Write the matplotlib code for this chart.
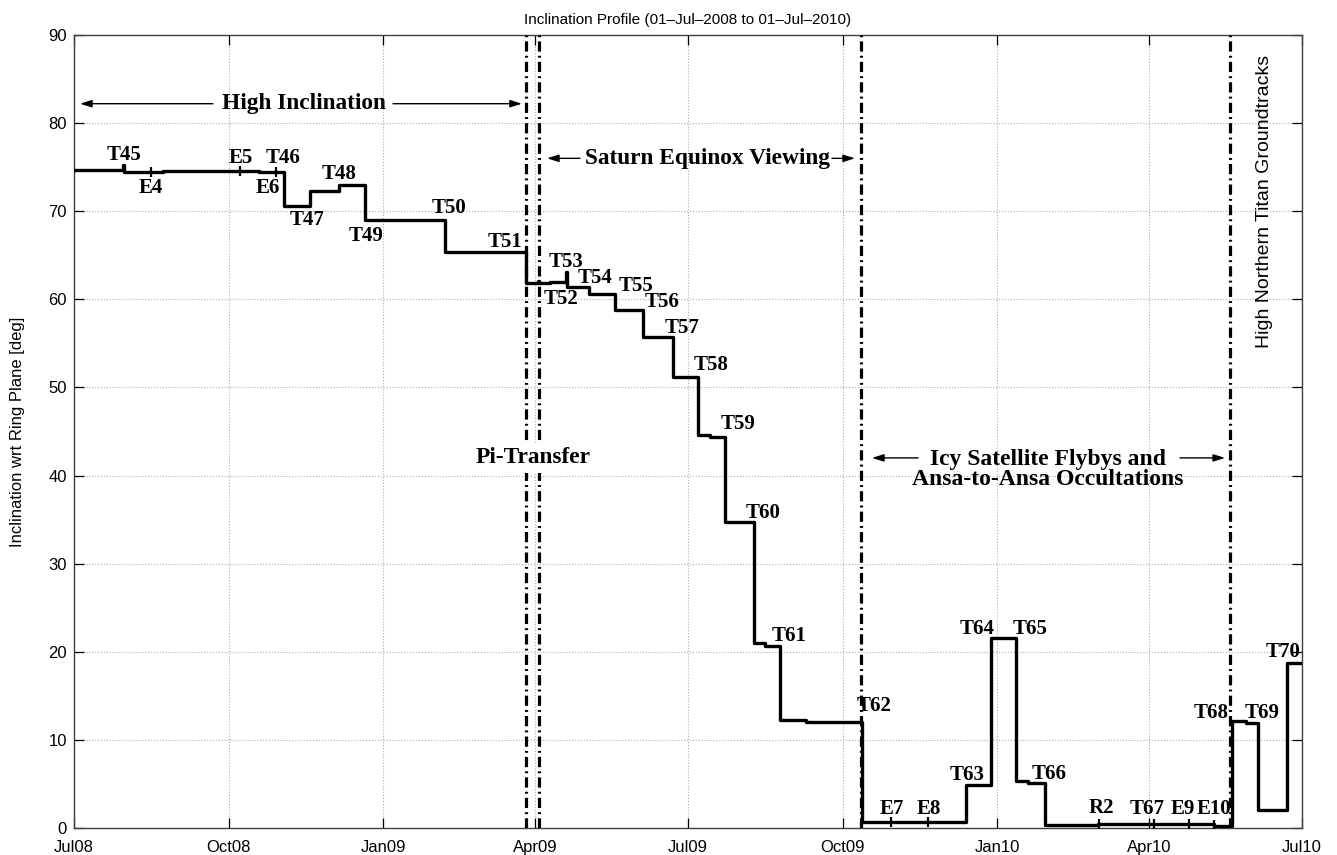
import datetime as dt
import numpy as np
import matplotlib
matplotlib.use("Agg")
import matplotlib.pyplot as plt
import matplotlib.dates as mdates

# Datos: días desde 01-Jul-2008 e inclinación [deg] (perfil escalonado)
t0 = mdates.date2num(dt.datetime(2008, 7, 1))
step_days = [0, 29.0, 29.8, 52.9, 109.8, 124.8, 140.2, 157.5, 173.0, 220.5,
             268.6, 276.0, 276.6, 283.0, 292.5, 293.3, 306.0, 321.5, 338.0,
             356.0, 371.0, 378.0, 387.0, 404.0, 411.0, 420.0, 435.0, 468.5,
             530.0, 545.0, 560.0, 567.0, 577.0, 609.0, 678.0, 688.5, 697.0,
             704.0, 721.0, 730.0]
step_incl = [74.7, 75.2, 74.4, 74.6, 74.4, 70.6, 72.3, 73.0, 69.0, 65.4,
             61.8, 62.1, 61.8, 62.0, 63.1, 61.4, 60.6, 58.8, 55.7,
             51.2, 44.6, 44.4, 34.7, 21.0, 20.7, 12.2, 12.0, 0.7,
             4.9, 21.6, 5.3, 5.1, 0.3, 0.5, 0.2, 12.1, 11.9,
             2.0, 18.7, 18.7]

# Marcas de sobrevuelos sobre la curva
tick_days = [45.8, 98.7, 120.0, 485.7, 507.6, 609.3, 642.0, 663.0, 678.0]
tick_incl = [74.4, 74.6, 74.4, 0.7, 0.7, 0.5, 0.5, 0.5, 0.3]

# Etiquetas de sobrevuelos
fb_names = ["T45", "E4", "E5", "T46", "E6", "T47", "T48", "T49", "T50", "T51",
            "T53", "T52", "T54", "T55", "T56", "T57", "T58", "T59", "T60", "T61",
            "T62", "E7", "E8", "T63", "T64", "T65", "T66", "R2", "T67", "E9",
            "E10", "T68", "T69", "T70"]
fb_days = [29.7, 45.8, 99.3, 124.2, 115.3, 138.5, 157.5, 173.6, 222.9, 256.2,
           292.5, 289.5, 309.7, 334.1, 349.5, 361.4, 378.7, 394.7, 409.6, 425.0,
           475.6, 486.3, 508.3, 530.9, 536.8, 568.3, 579.6, 610.5, 637.9, 659.3,
           677.7, 675.9, 706.2, 718.7]
fb_incl = [76.4, 72.6, 76.0, 76.0, 72.6, 69.0, 74.2, 67.2, 70.4, 66.5,
           64.2, 60.0, 62.4, 61.5, 59.7, 56.8, 52.5, 45.9, 35.8, 21.8,
           13.9, 2.2, 2.2, 6.0, 22.6, 22.6, 6.1, 2.3, 2.2, 2.2,
           2.2, 13.1, 13.1, 20.0]

# Líneas verticales de fases
phase_days = [268.6, 276.3, 467.8, 687.5]

serif = "Liberation Serif"
sans = "Liberation Sans"

fig = plt.figure(figsize=(13.37, 8.55), dpi=100)
ax = fig.add_axes([0.0553, 0.0316, 0.9185, 0.9275])

x = t0 + np.array(step_days)
ax.plot(x, step_incl, color="k", lw=2.4, drawstyle="steps-post", zorder=4)
ax.plot(t0 + np.array(tick_days), tick_incl, "|", color="k", ms=7, mew=1.6, zorder=4)

for d in phase_days:
    ax.axvline(t0 + d, color="k", lw=2.3, linestyle=(0, (3.2, 1.3, 0.6, 1.3)), zorder=3)

for name, d, v in zip(fb_names, fb_days, fb_incl):
    ax.text(t0 + d, v, name, ha="center", va="center", fontsize=15,
            fontweight="bold", family=serif, zorder=5)

# Regiones y flechas
arr = dict(arrowstyle="-|>,head_length=0.7,head_width=0.22", color="k", lw=1.0,
           shrinkA=0, shrinkB=0)

def arrow(d_tail, d_head, y):
    ax.annotate("", xy=(t0 + d_head, y), xytext=(t0 + d_tail, y), arrowprops=arr, zorder=6)

ax.text(t0 + 137, 82.2, "High Inclination", ha="center", va="center", fontsize=16.8,
        fontweight="bold", family=serif)
arrow(82.6, 3.6, 82.2)
arrow(189.7, 266.3, 82.2)

ax.text(t0 + 376.6, 76.0, "Saturn Equinox Viewing", ha="center", va="center",
        fontsize=16.8, fontweight="bold", family=serif)
arrow(300.8, 281.2, 76.0)
arrow(450.6, 464.3, 76.0)

ax.text(t0 + 272.9, 42.0, "Pi-Transfer", ha="center", va="center", fontsize=16.8,
        fontweight="bold", family=serif, zorder=6,
        bbox=dict(facecolor="white", edgecolor="none", pad=3))

ax.text(t0 + 579, 40.7, "Icy Satellite Flybys and\nAnsa-to-Ansa Occultations",
        ha="center", va="center", fontsize=17, fontweight="bold", family=serif,
        linespacing=0.95)
arrow(501.8, 474.4, 42.0)
arrow(657.5, 684.3, 42.0)

ax.text(t0 + 708, 71.1, "High Northern Titan Groundtracks", rotation=90,
        ha="center", va="center", fontsize=14, family=sans)

# Ejes estilo Matlab
ax.set_xlim(t0, t0 + 730)
ax.set_ylim(0, 90)
ax.set_yticks(np.arange(0, 91, 10))
ax.xaxis.set_major_locator(mdates.MonthLocator(bymonth=[1, 4, 7, 10]))
ax.xaxis.set_major_formatter(mdates.DateFormatter("%b%y"))
ax.tick_params(direction="in", length=7, width=0.9, top=True, right=True,
               labelsize=12, pad=5)
ax.tick_params(axis="x", pad=9)
for lab in ax.get_xticklabels() + ax.get_yticklabels():
    lab.set_family(sans)
ax.grid(True, linestyle=":", color="0.68", lw=0.8)
for s in ax.spines.values():
    s.set_linewidth(1.0)
    s.set_color("0.25")

ax.set_title("Inclination Profile (01\u2013Jul\u20132008 to 01\u2013Jul\u20132010)",
             fontsize=11, family=sans, pad=8)
ax.set_ylabel("Inclination wrt Ring Plane [deg]", fontsize=12, family=sans, labelpad=17)

fig.savefig("out.png", dpi=100)
